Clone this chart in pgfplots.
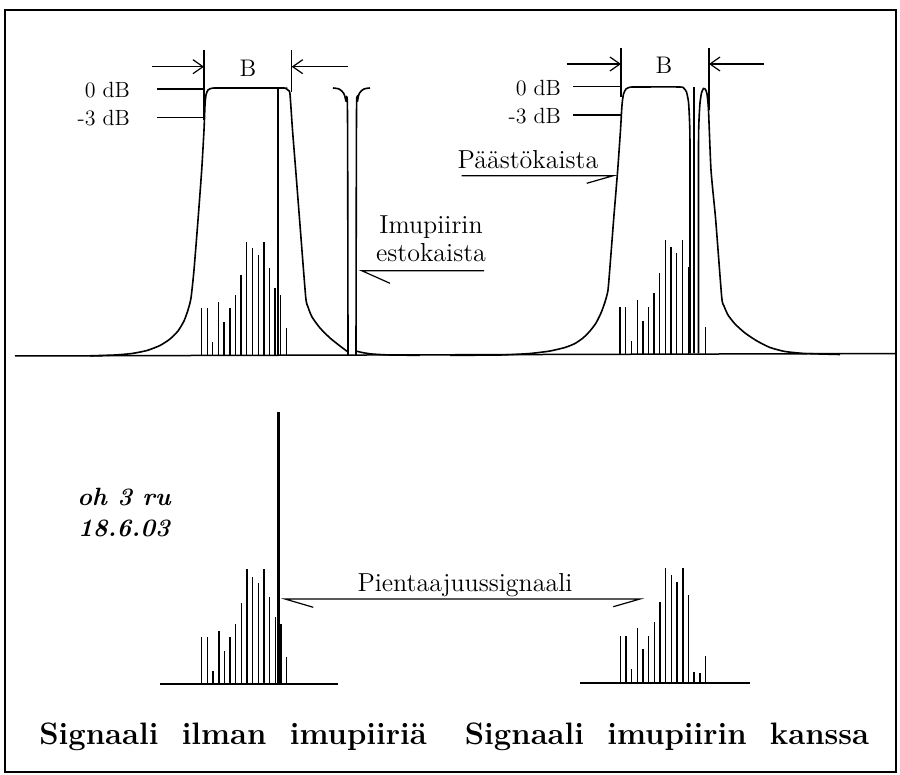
\documentclass[border=0pt]{standalone}
\usepackage{fontspec}
\usepackage{pgfplots}
\pgfplotsset{compat=1.18}
\usetikzlibrary{arrows.meta}
\begin{document}
\begin{tikzpicture}
\begin{axis}[width=450pt,height=387.5pt,scale only axis,
  xmin=0,xmax=900,ymin=0,ymax=775,y dir=reverse,
  axis lines=none,clip=false,unbounded coords=jump]
\path (axis cs:0,0) rectangle (axis cs:900,775);
% frame
\draw[line width=0.7pt] (axis cs:5,772) -- (axis cs:5,10) -- (axis cs:896,10) -- (axis cs:896,772) -- cycle;
% top baseline
\addplot[black,line width=0.75pt] coordinates {(15,356)(895,353.5)};
% left filter
\addplot[black,line width=0.8pt,smooth,tension=0.35] coordinates {
(90,355.8)(115,355)(132,353.5)(147,350.5)(160,345.5)(170,339)(178,331)(184,321)(188,310)(191,298)(194,270)(198,220)(201.7,170)(204,130)(205,105)(206,95)(208,90)(212,88.2)(220,88)(282,88)(286,88.5)(288.5,90.5)(290,94)(292.5,130)(295.7,170)(300,225)(305.7,297)(308,307)(312,317)(320,328)(330,338)(340,346)(348,352)};
% notch (image trap)
\addplot[black,line width=0.8pt,smooth,tension=0.45] coordinates {(333,88)(339,89)(343.5,93)(346,101)(347.5,115)(348,355.5)};
\addplot[black,line width=0.8pt,smooth,tension=0.45] coordinates {(370,88)(364,89)(359.5,93)(357.5,101)(356.5,115)(356,355.5)};
\addplot[black,line width=0.8pt,smooth,tension=0.4] coordinates {(356,351)(362,352.5)(372,354)(390,355)(420,355.3)};
% right filter
\addplot[black,line width=0.8pt,smooth,tension=0.35] coordinates {
(450,355.3)(500,355)(530,353.5)(550,351)(565,347.5)(575,343.5)(583,338)(590,331)(596,323)(601,313)(605,302)(608,290)(610.5,260)(614,215)(617.7,170)(620.5,130)(622,105)(623.5,94)(626,89)(630,87.2)(636,87)(680,87)(684,88.5)(686.5,92)(688.5,102)(689.5,120)(690,150)(690,353.5)};
\addplot[black,line width=0.9pt] coordinates {(694,87)(694,353.5)};
\addplot[black,line width=0.8pt,smooth,tension=0.35] coordinates {
(698.5,353.5)(698.5,150)(699,120)(700,103)(701.5,93)(703.5,88.5)(705.5,89.5)(707,94)(708.5,110)(711,170)(715.7,220)(721.7,297)(724,306)(728,315)(735,324)(745,333)(757,341)(770,347.5)(785,351.5)(805,353.5)(840,354.5)};
% spectral lines top-left
\addplot[black,line width=0.6pt] table[row sep=\\] {
x y\\
201.7 355.5\\ 201.7 308.3\\ nan nan\\
207.3 355.5\\ 207.3 308.3\\ nan nan\\
212.7 355.5\\ 212.7 342.3\\ nan nan\\
218.7 355.5\\ 218.7 301.7\\ nan nan\\
224.0 355.5\\ 224.0 321.7\\ nan nan\\
230.0 355.5\\ 230.0 308.3\\ nan nan\\
235.7 355.5\\ 235.7 295.0\\ nan nan\\
241.0 355.5\\ 241.0 275.0\\ nan nan\\
246.7 355.5\\ 246.7 241.7\\ nan nan\\
252.3 355.5\\ 252.3 248.3\\ nan nan\\
258.3 355.5\\ 258.3 255.0\\ nan nan\\
264.0 355.5\\ 264.0 241.7\\ nan nan\\
269.3 355.5\\ 269.3 267.7\\ nan nan\\
275.0 355.5\\ 275.0 288.3\\ nan nan\\
280.7 355.5\\ 280.7 295.0\\ nan nan\\
286.7 355.5\\ 286.7 328.3\\
};
\addplot[black,line width=1.2pt] coordinates {(278,355.5)(278,88)};
% spectral lines top-right
\addplot[black,line width=0.6pt] table[row sep=\\] {
x y\\
620.0 354\\ 620.0 306.7\\ nan nan\\
625.7 354\\ 625.7 306.7\\ nan nan\\
631.3 354\\ 631.3 340.7\\ nan nan\\
637.3 354\\ 637.3 300.0\\ nan nan\\
643.0 354\\ 643.0 320.7\\ nan nan\\
648.3 354\\ 648.3 306.7\\ nan nan\\
654.0 354\\ 654.0 293.3\\ nan nan\\
659.7 354\\ 659.7 273.3\\ nan nan\\
665.3 354\\ 665.3 240.0\\ nan nan\\
671.0 354\\ 671.0 246.7\\ nan nan\\
676.7 354\\ 676.7 253.3\\ nan nan\\
682.3 354\\ 682.3 240.0\\ nan nan\\
688.3 354\\ 688.3 267.3\\ nan nan\\
705.3 354\\ 705.3 326.7\\
};
% bottom-left spectrum
\addplot[black,line width=0.75pt] coordinates {(160,684)(338,684)};
\addplot[black,line width=0.6pt] table[row sep=\\] {
x y\\
201.7 684\\ 201.7 637.3\\ nan nan\\
207.3 684\\ 207.3 637.3\\ nan nan\\
213.0 684\\ 213.0 670.7\\ nan nan\\
219.0 684\\ 219.0 630.7\\ nan nan\\
224.3 684\\ 224.3 650.7\\ nan nan\\
230.0 684\\ 230.0 637.3\\ nan nan\\
235.7 684\\ 235.7 624.0\\ nan nan\\
241.3 684\\ 241.3 603.3\\ nan nan\\
247.0 684\\ 247.0 569.3\\ nan nan\\
252.7 684\\ 252.7 576.7\\ nan nan\\
258.3 684\\ 258.3 583.3\\ nan nan\\
264.0 684\\ 264.0 569.3\\ nan nan\\
269.7 684\\ 269.7 596.7\\ nan nan\\
275.3 684\\ 275.3 617.3\\ nan nan\\
281.0 684\\ 281.0 624.0\\ nan nan\\
286.7 684\\ 286.7 656.7\\
};
\addplot[black,line width=1.2pt] coordinates {(278.3,684)(278.3,412.3)};
% bottom-right spectrum
\addplot[black,line width=0.75pt] coordinates {(580,683)(750,683)};
\addplot[black,line width=0.6pt] table[row sep=\\] {
x y\\
620.3 683\\ 620.3 635.7\\ nan nan\\
626.0 683\\ 626.0 635.7\\ nan nan\\
631.7 683\\ 631.7 669.3\\ nan nan\\
637.7 683\\ 637.7 628.3\\ nan nan\\
643.0 683\\ 643.0 649.0\\ nan nan\\
648.7 683\\ 648.7 635.7\\ nan nan\\
654.3 683\\ 654.3 622.3\\ nan nan\\
660.0 683\\ 660.0 601.7\\ nan nan\\
665.7 683\\ 665.7 567.7\\ nan nan\\
671.3 683\\ 671.3 575.0\\ nan nan\\
677.0 683\\ 677.0 581.7\\ nan nan\\
683.0 683\\ 683.0 567.7\\ nan nan\\
688.3 683\\ 688.3 595.0\\ nan nan\\
694.0 683\\ 694.0 671.7\\ nan nan\\
700.0 683\\ 700.0 672.7\\ nan nan\\
705.7 683\\ 705.7 655.7\\
};
% bandwidth markers
\draw[line width=0.6pt] (axis cs:204,50) -- (axis cs:204,120);
\draw[line width=0.6pt] (axis cs:291.7,50) -- (axis cs:291.7,92);
\draw[line width=0.6pt,-{Straight Barb[length=5pt,width=7pt]}] (axis cs:151.7,66.7) -- (axis cs:204,66.7);
\draw[line width=0.6pt,-{Straight Barb[length=5pt,width=7pt]}] (axis cs:348,66.7) -- (axis cs:291.7,66.7);
\draw[line width=0.6pt] (axis cs:621,48) -- (axis cs:621,97);
\draw[line width=0.6pt] (axis cs:709,48) -- (axis cs:709,110);
\draw[line width=0.6pt,-{Straight Barb[length=5pt,width=7pt]}] (axis cs:566.7,64) -- (axis cs:621,64);
\draw[line width=0.6pt,-{Straight Barb[length=5pt,width=7pt]}] (axis cs:764,64) -- (axis cs:709,64);
\node[font=\fontsize{12}{14}\selectfont] at (axis cs:248,68) {B};
\node[font=\fontsize{12}{14}\selectfont] at (axis cs:664,65) {B};
% dB lines and labels
\draw[line width=0.6pt] (axis cs:157,89) -- (axis cs:203,89);
\draw[line width=0.6pt] (axis cs:157,117.7) -- (axis cs:203,117.7);
\draw[line width=0.6pt] (axis cs:573,86.7) -- (axis cs:621,86.7);
\draw[line width=0.6pt] (axis cs:573,115) -- (axis cs:621,115);
\node[font=\fontsize{11}{13}\selectfont,anchor=east] at (axis cs:137,90) {0 dB};
\node[font=\fontsize{11}{13}\selectfont,anchor=east] at (axis cs:137,118.5) {-3 dB};
\node[font=\fontsize{11}{13}\selectfont,anchor=east] at (axis cs:568,88) {0 dB};
\node[font=\fontsize{11}{13}\selectfont,anchor=east] at (axis cs:568,116.5) {-3 dB};
% annotations
\node[font=\fontsize{13}{15}\selectfont,anchor=base] at (axis cs:431,234) {Imupiirin};
\node[font=\fontsize{13}{15}\selectfont,anchor=base] at (axis cs:431,262) {estokaista};
\draw[line width=0.6pt] (axis cs:484,270.7) -- (axis cs:361.7,270.7) -- (axis cs:390,283.3);
\node[font=\fontsize{13}{15}\selectfont,anchor=base] at (axis cs:528,169) {Päästökaista};
\draw[line width=0.6pt] (axis cs:461.7,175.7) -- (axis cs:613.3,175.7) -- (axis cs:586.7,183.3);
\node[font=\fontsize{13}{15}\selectfont,anchor=base] at (axis cs:465,591) {Pientaajuussignaali};
\draw[line width=0.6pt] (axis cs:313.3,607.3) -- (axis cs:285,599) -- (axis cs:640,599) -- (axis cs:613.3,606.7);
% handwritten note
\node[font=\fontsize{12.5}{14}\selectfont\itshape\bfseries] at (axis cs:124,496.7) {oh 3 ru};
\node[font=\fontsize{12.5}{14}\selectfont\itshape\bfseries] at (axis cs:124,528) {18.6.03};
% titles
\node[font=\fontsize{15.5}{18}\selectfont\bfseries] at (axis cs:233,737) {Signaali\ \ ilman\ \ imupiiriä};
\node[font=\fontsize{15.5}{18}\selectfont\bfseries] at (axis cs:667,737) {Signaali\ \ imupiirin\ \ kanssa};
\end{axis}
\end{tikzpicture}
\end{document}
